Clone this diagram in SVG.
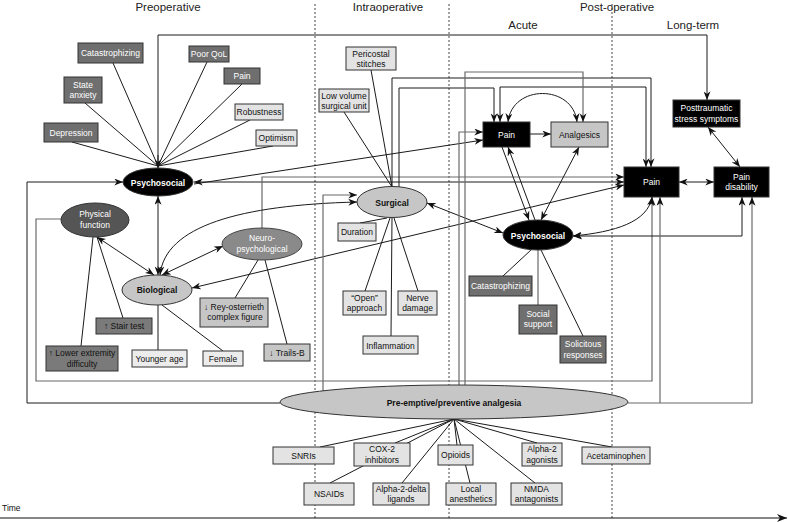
<svg xmlns="http://www.w3.org/2000/svg" width="788" height="522" viewBox="0 0 788 522">
<defs>
<marker id="a" viewBox="0 0 10 8" refX="10" refY="4" markerWidth="9" markerHeight="7" markerUnits="userSpaceOnUse" orient="auto-start-reverse"><path d="M0,0 L10,4 L0,8 L3,4 z" fill="#111"/></marker>
<marker id="t" viewBox="0 0 10 8" refX="10" refY="4" markerWidth="10" markerHeight="8" markerUnits="userSpaceOnUse" orient="auto"><path d="M0,0 L10,4 L0,8 L3,4 z" fill="#111"/></marker>
</defs>
<style>
text{font-family:"Liberation Sans",Arial,sans-serif;font-size:8.5px;text-anchor:middle;fill:#111}
.h{font-size:11.5px;fill:#222}
.w{fill:#fff}
.b{font-weight:bold}
.dk{fill:#6f6f6f;stroke:#333;stroke-width:1}
.dk2{fill:#7a7a7a;stroke:#333;stroke-width:1}
.lt{fill:#e3e3e3;stroke:#333;stroke-width:1}
.lt2{fill:#ececec;stroke:#333;stroke-width:1}
.md{fill:#c6c6c6;stroke:#333;stroke-width:1}
.bk{fill:#000;stroke:#333;stroke-width:1}
.c path{fill:none;stroke:#1a1a1a;stroke-width:1}
.c path.g{stroke:#6a6a6a;stroke-width:1.2}
.grid{stroke:#444;stroke-width:1;stroke-dasharray:2,2}
</style>
<g id="headers">
<text class="h" x="168" y="11">Preoperative</text>
<text class="h" x="388" y="11">Intraoperative</text>
<text class="h" x="617" y="11">Post-operative</text>
<text class="h" x="523" y="29">Acute</text>
<text class="h" x="693" y="29">Long-term</text>
</g>
<g id="grid">
<line class="grid" x1="315" y1="4" x2="315" y2="518"/>
<line class="grid" x1="449" y1="4" x2="449" y2="518"/>
<line class="grid" x1="612" y1="4" x2="612" y2="518"/>
<line x1="0" y1="518" x2="787" y2="518" stroke="#111" stroke-width="1.2" marker-end="url(#t)"/>
<text x="2" y="511" style="text-anchor:start">Time</text>
</g>
<g id="connectors" class="c">
<path d="M113,63 L158,166"/>
<path d="M85,103 L158,166"/>
<path d="M72,142 L158,166"/>
<path d="M207,62 L158,166"/>
<path d="M242,84 L158,166"/>
<path d="M250,120 L158,166"/>
<path d="M273,146 L158,166"/>
<path d="M158,155 L158,168" marker-end="url(#a)"/>
<path d="M158,168 L158,35 L707,35 L707,100" marker-end="url(#a)"/>
<path d="M280,403 L27,403 L27,182 L123,182" marker-end="url(#a)"/>
<path d="M194,182 L624,182" marker-start="url(#a)" marker-end="url(#a)"/>
<path d="M194,184 L483,140" marker-end="url(#a)"/>
<path class="g" d="M262,228 L262,177 L624,177" marker-end="url(#a)"/>
<path d="M192,288 L624,185" marker-start="url(#a)" marker-end="url(#a)"/>
<path d="M158,196 L158,275" marker-start="url(#a)" marker-end="url(#a)"/>
<path d="M97,237 L154,275" marker-start="url(#a)" marker-end="url(#a)"/>
<path d="M162,275 L223,246" marker-start="url(#a)" marker-end="url(#a)"/>
<path d="M160,275 C165,226 240,205 357,202" marker-start="url(#a)" marker-end="url(#a)"/>
<path class="g" d="M61,219 L36,219 L36,381 L652,381 L652,197" marker-end="url(#a)"/>
<path d="M123,318 L97,237"/>
<path d="M81,346 L93,237"/>
<path d="M158,350 L158,305"/>
<path d="M223,351 L162,305"/>
<path d="M235,298 L258,260"/>
<path d="M287,344 L265,260"/>
<path d="M371,70 L392,187"/>
<path d="M344,112 L392,187"/>
<path d="M360,223 L387,218"/>
<path d="M365,291 L390,218"/>
<path d="M418,291 L394,218"/>
<path d="M391,336 L392,218"/>
<path class="g" d="M323,391 L323,195 L357,195" marker-end="url(#a)"/>
<path d="M399,187 L399,88 L494,88 L494,122" marker-end="url(#a)"/>
<path d="M392,187 L392,78 L651,78 L651,167" marker-end="url(#a)"/>
<path d="M427,203 L503,233" marker-start="url(#a)" marker-end="url(#a)"/>
<path d="M500,122 L500,87 L646,87 L646,167" marker-start="url(#a)" marker-end="url(#a)"/>
<path class="g" d="M465,385 L465,72 L583,72 L583,122" marker-end="url(#a)"/>
<path class="g" d="M459,385 L459,132 L483,132" marker-end="url(#a)"/>
<path d="M530,134 L551,134" marker-end="url(#a)"/>
<path d="M508,122 C512,84 573,84 577,122" marker-start="url(#a)" marker-end="url(#a)"/>
<path d="M502,147 L529,220" marker-end="url(#a)"/>
<path d="M535,220 L508,147" marker-end="url(#a)"/>
<path d="M579,147 L541,220" marker-start="url(#a)" marker-end="url(#a)"/>
<path d="M573,236 C615,232 648,222 652,197" marker-start="url(#a)" marker-end="url(#a)"/>
<path d="M573,236 L742,236 L742,197" marker-start="url(#a)" marker-end="url(#a)"/>
<path d="M503,276 L532,249"/>
<path class="g" d="M538,305 L538,250"/>
<path d="M583,336 L541,250"/>
<path d="M679,182 L714,182" marker-start="url(#a)" marker-end="url(#a)"/>
<path d="M708,127 L740,167" marker-start="url(#a)" marker-end="url(#a)"/>
<path class="g" d="M628,403 L752,403 L752,197" marker-end="url(#a)"/>
<path class="g" d="M660,403 L660,197" marker-end="url(#a)"/>
<path d="M454,419 L320,447"/>
<path d="M454,419 L395,443"/>
<path d="M454,419 L330,483"/>
<path d="M454,419 L402,483"/>
<path d="M454,419 L457,445"/>
<path d="M454,419 L470,483"/>
<path d="M454,419 L535,483"/>
<path d="M454,419 L537,443"/>
<path d="M454,419 L612,447"/>
</g>
<g id="catastrophizing-pre"><rect class="dk" x="78" y="43" width="65" height="20"/><text class="w" x="110.5" y="56">Catastrophizing</text></g>
<g id="state-anxiety"><rect class="dk" x="64" y="77" width="38" height="26"/><text class="w" x="83" y="87.5">State</text><text class="w" x="83" y="98">anxiety</text></g>
<g id="depression"><rect class="dk" x="44" y="123" width="54" height="19"/><text class="w" x="71" y="135.5">Depression</text></g>
<g id="poor-qol"><rect class="dk" x="189" y="46" width="40" height="16"/><text class="w" x="209" y="57">Poor QoL</text></g>
<g id="pain-pre"><rect class="dk" x="224" y="68" width="36" height="16"/><text class="w" x="242" y="79">Pain</text></g>
<g id="robustness"><rect class="lt" x="235" y="104" width="48" height="16"/><text x="259" y="115">Robustness</text></g>
<g id="optimism"><rect class="lt" x="256" y="130" width="41" height="16"/><text x="276.5" y="141">Optimism</text></g>
<g id="psychosocial-pre"><ellipse class="bk" cx="158" cy="182" rx="35" ry="14"/><text class="w b" x="158" y="185.5">Psychosocial</text></g>
<g id="physical-function"><ellipse cx="95" cy="220" rx="34" ry="17" fill="#555" stroke="#333"/><text class="w" x="95" y="217">Physical</text><text class="w" x="95" y="227.5">function</text></g>
<g id="biological"><ellipse class="md" cx="157" cy="290" rx="35" ry="15"/><text class="b" x="157" y="293">Biological</text></g>
<g id="neuropsychological"><ellipse cx="262" cy="244" rx="40" ry="16" fill="#8a8a8a" stroke="#444"/><text class="w" x="262" y="241">Neuro-</text><text class="w" x="262" y="252">psychological</text></g>
<g id="stair-test"><rect class="dk2" x="96" y="318" width="56" height="16"/><text x="124" y="329">↑ Stair test</text></g>
<g id="lower-extremity"><rect class="dk2" x="46" y="346" width="72" height="25"/><text x="82" y="356">↑ Lower extremity</text><text x="82" y="366.5">difficulty</text></g>
<g id="younger-age"><rect class="lt2" x="132" y="350" width="55" height="17"/><text x="159.5" y="361.5">Younger age</text></g>
<g id="female"><rect class="lt2" x="203" y="351" width="40" height="15"/><text x="223" y="361.5">Female</text></g>
<g id="rey-osterrieth"><rect class="md" x="200" y="298" width="68" height="29"/><text x="234" y="309.5">↓ Rey-osterrieth</text><text x="235" y="320">complex figure</text></g>
<g id="trails-b"><rect class="md" x="264" y="344" width="46" height="17"/><text x="287" y="355.5">↓ Trails-B</text></g>
<g id="surgical"><ellipse class="md" cx="392" cy="202" rx="35" ry="15.5"/><text class="b" x="392" y="205.5">Surgical</text></g>
<g id="pericostal"><rect class="lt" x="346" y="47" width="50" height="23"/><text x="371" y="56.5">Pericostal</text><text x="371" y="66.5">stitches</text></g>
<g id="low-volume"><rect class="lt" x="319" y="89" width="50" height="23"/><text x="344" y="98.5">Low volume</text><text x="344" y="108.5">surgical unit</text></g>
<g id="duration"><rect class="lt" x="338" y="223" width="38" height="18"/><text x="357" y="235">Duration</text></g>
<g id="open-approach"><rect class="lt" x="343" y="291" width="43" height="24"/><text x="364.5" y="300.5">“Open”</text><text x="364.5" y="311">approach</text></g>
<g id="nerve-damage"><rect class="lt" x="398" y="291" width="39" height="24"/><text x="417.5" y="300.5">Nerve</text><text x="417.5" y="311">damage</text></g>
<g id="inflammation"><rect class="lt" x="363" y="336" width="55" height="18"/><text x="390.5" y="348.5">Inflammation</text></g>
<g id="pain-acute"><rect class="bk" x="483" y="122" width="47" height="25"/><text class="w" x="506.5" y="137.5">Pain</text></g>
<g id="analgesics"><rect class="md" x="551" y="122" width="57" height="25"/><text x="579.5" y="137.5">Analgesics</text></g>
<g id="psychosocial-acute"><ellipse class="bk" cx="538" cy="235" rx="35" ry="15"/><text class="w b" x="538" y="238.5">Psychosocial</text></g>
<g id="catastrophizing-acute"><rect class="dk" x="469" y="276" width="63" height="20"/><text class="w" x="500.5" y="289">Catastrophizing</text></g>
<g id="social-support"><rect class="dk" x="519" y="305" width="38" height="29"/><text class="w" x="538" y="316.5">Social</text><text class="w" x="538" y="327">support</text></g>
<g id="solicitous"><rect class="dk" x="560" y="336" width="46" height="27"/><text class="w" x="583" y="347">Solicitous</text><text class="w" x="583" y="357.5">responses</text></g>
<g id="ptss"><rect class="bk" x="673" y="100" width="67" height="27"/><text class="w" x="706.5" y="111">Posttraumatic</text><text class="w" x="706.5" y="121.5">stress symptoms</text></g>
<g id="pain-longterm"><rect class="bk" x="624" y="167" width="55" height="30"/><text class="w" x="651.5" y="185">Pain</text></g>
<g id="pain-disability"><rect class="bk" x="714" y="167" width="55" height="30"/><text class="w" x="741.5" y="179.5">Pain</text><text class="w" x="741.5" y="190">disability</text></g>
<g id="preemptive"><ellipse class="md" cx="454" cy="402" rx="174" ry="17"/><text class="b" x="454" y="405.5">Pre-emptive/preventive analgesia</text></g>
<g id="snris"><rect class="lt" x="273" y="447" width="61" height="17"/><text x="303.5" y="458.5">SNRIs</text></g>
<g id="cox2"><rect class="lt" x="354" y="443" width="56" height="23"/><text x="382" y="452">COX-2</text><text x="382" y="462.5">inhibitors</text></g>
<g id="nsaids"><rect class="lt" x="304" y="483" width="50" height="22"/><text x="329" y="497">NSAIDs</text></g>
<g id="alpha2delta"><rect class="lt" x="373" y="483" width="56" height="22"/><text x="401" y="491.5">Alpha-2-delta</text><text x="401" y="502">ligands</text></g>
<g id="opioids"><rect class="lt" x="438" y="445" width="35" height="20"/><text x="455.5" y="458">Opioids</text></g>
<g id="local-anesthetics"><rect class="lt" x="446" y="483" width="50" height="22"/><text x="471" y="491.5">Local</text><text x="471" y="502">anesthetics</text></g>
<g id="alpha2"><rect class="lt" x="522" y="443" width="40" height="23"/><text x="542" y="452">Alpha-2</text><text x="542" y="462.5">agonists</text></g>
<g id="nmda"><rect class="lt" x="511" y="483" width="51" height="22"/><text x="536.5" y="491.5">NMDA</text><text x="536.5" y="502">antagonists</text></g>
<g id="acetaminophen"><rect class="lt" x="582" y="447" width="68" height="17"/><text x="616" y="458.5">Acetaminophen</text></g>
</svg>
